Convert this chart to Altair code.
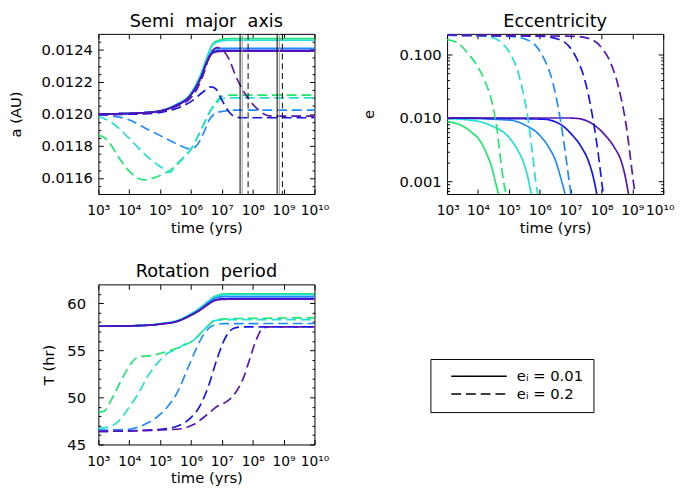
import altair as alt
import pandas as pd

FONT = "DejaVu Sans"
SERIES = ["g", "c", "lb", "b", "p"]
COLORS = ["#1ee86c", "#20e0d8", "#1e8cff", "#1414f0", "#5514b4"]
EI = ["eᵢ = 0.01", "eᵢ = 0.2"]
DASHES = [[1, 0], [10, 5]]

XTICKS = [1e3, 1e4, 1e5, 1e6, 1e7, 1e8, 1e9, 1e10]
XLABELS = ["10³", "10⁴", "10⁵", "10⁶", "10⁷", "10⁸", "10⁹", "10¹⁰"]

# ---------------- Semi major axis (AU) ----------------
A_SOLID_T = [3.0, 4.0, 4.5, 5.0, 5.5, 6.0, 6.3, 6.55, 6.7, 6.9, 7.2, 10.0]
A_SOLID = {
    "g":  [0.01200, 0.012003, 0.012008, 0.01202, 0.012057, 0.01213, 0.01224, 0.01237, 0.012435, 0.01246, 0.01247, 0.01247],
    "c":  [0.01200, 0.012003, 0.012008, 0.01202, 0.012056, 0.012128, 0.012236, 0.012365, 0.01243, 0.012452, 0.01246, 0.01246],
    "lb": [0.01200, 0.012003, 0.012008, 0.01202, 0.012054, 0.012122, 0.012225, 0.012345, 0.012395, 0.012408, 0.01241, 0.01241],
    "b":  [0.01200, 0.012003, 0.012008, 0.012019, 0.012052, 0.01212, 0.01222, 0.01234, 0.012385, 0.012395, 0.012398, 0.012398],
    "p":  [0.01200, 0.012003, 0.012008, 0.012018, 0.01205, 0.012118, 0.012215, 0.012335, 0.01238, 0.01239, 0.012392, 0.012392],
}
A_DASH_T = {
    "g":  [3.0, 3.15, 3.35, 3.65, 3.97, 4.28, 4.5, 4.76, 5.1, 5.45, 5.75, 6.0, 6.2, 6.4, 6.6, 6.8, 7.0, 7.3, 10.0],
    "c":  [3.0, 3.44, 3.97, 4.49, 5.02, 5.34, 5.45, 5.75, 6.0, 6.2, 6.4, 6.6, 6.8, 7.0, 7.3, 10.0],
    "lb": [3.0, 3.97, 4.49, 5.02, 5.55, 5.97, 6.18, 6.39, 6.6, 6.81, 7.02, 7.4, 10.0],
    "b":  [3.0, 4.49, 5.02, 5.55, 6.07, 6.39, 6.65, 6.79, 6.97, 7.18, 7.39, 7.65, 10.0],
    "p":  [3.0, 4.5, 5.0, 5.5, 6.07, 6.39, 6.65, 6.86, 7.02, 7.23, 7.44, 7.71, 7.97, 8.18, 8.39, 8.6, 10.0],
}
A_DASH = {
    "g":  [0.011867, 0.011857, 0.011822, 0.011731, 0.011649, 0.011598, 0.011588, 0.011598, 0.011625, 0.011665,
           0.011725, 0.01178, 0.01185, 0.01193, 0.01201, 0.01207, 0.01211, 0.012118, 0.012118],
    "c":  [0.011986, 0.011945, 0.011853, 0.011751, 0.011669, 0.011635, 0.011668, 0.011728, 0.011782, 0.011852,
           0.01193, 0.01201, 0.01206, 0.012095, 0.0121, 0.0121],
    "lb": [0.011996, 0.011965, 0.011914, 0.011863, 0.011812, 0.011782, 0.011802, 0.011873, 0.011965, 0.012006,
           0.012016, 0.012024, 0.012024],
    "b":  [0.011996, 0.012, 0.01201, 0.012035, 0.012086, 0.012137, 0.012169, 0.012159, 0.012098, 0.012026,
           0.011986, 0.011976, 0.011976],
    "p":  [0.011996, 0.012005, 0.012015, 0.012045, 0.012116, 0.012241, 0.012384, 0.012415, 0.0124, 0.012343,
           0.012241, 0.012139, 0.012067, 0.012027, 0.011996, 0.011986, 0.011986],
}
VLINE_SOLID_T = [7.59, 8.79]
VLINE_DASH_T = [7.85, 8.96]
VLINE_GREY_T = [7.66, 8.86]

# ---------------- Eccentricity ----------------
E_SOLID_T = {
    "g":  [3.0, 3.445, 3.764, 4.082, 4.294, 4.453, 4.559, 4.665, 4.77],
    "c":  [3.0, 3.976, 4.506, 4.93, 5.248, 5.46, 5.619, 5.725, 5.831],
    "lb": [3.0, 5.036, 5.566, 5.99, 6.309, 6.521, 6.68, 6.818, 6.924],
    "b":  [3.0, 6.097, 6.627, 7.051, 7.369, 7.581, 7.74, 7.846, 7.931],
    "p":  [3.0, 6.945, 7.263, 7.687, 8.111, 8.43, 8.641, 8.779, 8.875, 8.96],
}
E_SOLID = {
    "g":  [0.00873, 0.00774, 0.00611, 0.00427, 0.00265, 0.00165, 0.00102, 0.00064, 0.0004],
    "c":  [0.0098, 0.00893, 0.00729, 0.00542, 0.00337, 0.00209, 0.00115, 0.00064, 0.00035],
    "lb": [0.0100, 0.00925, 0.00757, 0.00542, 0.00337, 0.00209, 0.00115, 0.00064, 0.00035],
    "b":  [0.0100, 0.0096, 0.0082, 0.00542, 0.00337, 0.00209, 0.00115, 0.00064, 0.00035],
    "p":  [0.0100, 0.0100, 0.0098, 0.0082, 0.00542, 0.00337, 0.00209, 0.00115, 0.00064, 0.00035],
}
E_DASH_T = {
    "g":  [3.0, 3.339, 3.657, 3.976, 4.241, 4.453, 4.612, 4.739, 4.845, 4.909, 4.972],
    "c":  [3.0, 3.976, 4.506, 4.824, 5.089, 5.301, 5.46, 5.619, 5.757, 5.884, 5.937, 5.99],
    "lb": [3.0, 5.036, 5.566, 5.884, 6.15, 6.362, 6.521, 6.68, 6.839, 6.966, 7.008, 7.061],
    "b":  [3.0, 6.097, 6.627, 6.945, 7.21, 7.422, 7.581, 7.74, 7.899, 8.005, 8.058, 8.111],
    "p":  [3.0, 7.157, 7.687, 8.005, 8.27, 8.482, 8.641, 8.8, 8.938, 9.045, 9.087, 9.14],
}
E_DASH = {
    "g":  [0.171, 0.152, 0.106, 0.0659, 0.0364, 0.0178, 0.00687, 0.00209, 0.00091, 0.00064, 0.0004],
    "c":  [0.2, 0.197, 0.181, 0.143, 0.0942, 0.052, 0.0255, 0.0098, 0.00299, 0.00091, 0.00064, 0.0004],
    "lb": [0.2, 0.192, 0.171, 0.135, 0.0836, 0.0461, 0.0226, 0.00873, 0.00265, 0.00091, 0.00064, 0.0004],
    "b":  [0.2, 0.192, 0.171, 0.135, 0.0836, 0.0461, 0.0226, 0.00873, 0.00265, 0.00102, 0.00064, 0.0004],
    "p":  [0.2, 0.192, 0.171, 0.127, 0.0789, 0.0409, 0.02, 0.00774, 0.00236, 0.00091, 0.00064, 0.0004],
}

# ---------------- Rotation period (hr) ----------------
T_SOLID_T = [3.0, 4.5, 5.04, 5.57, 5.99, 6.31, 6.57, 6.79, 7.0, 7.3, 10.0]
T_SOLID = {
    "g":  [57.55, 57.66, 57.83, 58.17, 58.86, 59.55, 60.24, 60.76, 60.95, 61.0, 61.0],
    "c":  [57.55, 57.66, 57.83, 58.16, 58.84, 59.5, 60.18, 60.68, 60.86, 60.9, 60.9],
    "lb": [57.55, 57.65, 57.81, 58.12, 58.78, 59.42, 60.08, 60.55, 60.68, 60.7, 60.7],
    "b":  [57.55, 57.64, 57.8, 58.1, 58.72, 59.32, 59.95, 60.35, 60.46, 60.48, 60.48],
    "p":  [57.55, 57.64, 57.79, 58.08, 58.7, 59.3, 59.9, 60.3, 60.4, 60.42, 60.42],
}
T_DASH_T = {
    "g":  [3.0, 3.18, 3.445, 3.764, 4.082, 4.294, 4.718, 5.248, 5.672, 6.097, 6.309, 6.574, 6.786, 7.157, 10.0],
    "c":  [3.0, 3.339, 3.657, 3.976, 4.294, 4.612, 4.93, 5.248, 5.566, 5.672, 6.097, 6.309, 6.574, 6.786, 7.157, 10.0],
    "lb": [3.0, 3.976, 4.506, 4.93, 5.248, 5.566, 5.884, 6.203, 6.468, 6.733, 7.051, 10.0],
    "b":  [3.0, 5.036, 5.566, 5.99, 6.309, 6.574, 6.839, 7.104, 7.369, 7.634, 10.0],
    "p":  [3.0, 5.566, 6.097, 6.521, 6.839, 7.157, 7.422, 7.687, 7.899, 8.111, 8.323, 8.535, 10.0],
}
T_DASH = {
    "g":  [48.41, 48.52, 49.9, 51.97, 53.69, 54.31, 54.45, 54.9, 55.41, 56.1, 56.79, 57.66, 58.24, 58.34, 58.45],
    "c":  [46.72, 46.86, 47.48, 48.86, 50.41, 52.31, 53.69, 54.72, 55.14, 55.41, 56.1, 56.79, 57.66, 58.15, 58.25, 58.25],
    "lb": [46.52, 46.62, 47.14, 48.0, 49.03, 50.59, 53.0, 55.41, 56.97, 57.66, 57.83, 57.85],
    "b":  [46.38, 46.62, 46.97, 47.83, 49.21, 51.28, 54.03, 56.28, 57.31, 57.48, 57.48],
    "p":  [46.38, 46.62, 47.14, 48.17, 49.03, 49.55, 50.41, 51.97, 54.03, 56.1, 57.31, 57.48, 57.48],
}

A_TICKS = [round(0.0115 + 0.00005 * i, 6) for i in range(20)]
E_TICKS = [0.0007, 0.0008, 0.0009, 0.001, 0.002, 0.003, 0.004, 0.005, 0.006, 0.007, 0.008, 0.009,
           0.01, 0.02, 0.03, 0.04, 0.05, 0.06, 0.07, 0.08, 0.09, 0.1]
T_TICKS = list(range(45, 62))


def long_df(t_src, v_src, ei):
    rows = []
    for s in SERIES:
        ts = t_src[s] if isinstance(t_src, dict) else t_src
        for lt, v in zip(ts, v_src[s]):
            rows.append({"series": s, "ei": ei, "t": 10 ** lt, "v": v})
    return rows


A_DF = pd.DataFrame(long_df(A_SOLID_T, A_SOLID, EI[0]) + long_df(A_DASH_T, A_DASH, EI[1]))
E_DF = pd.DataFrame(long_df(E_SOLID_T, E_SOLID, EI[0]) + long_df(E_DASH_T, E_DASH, EI[1]))
T_DF = pd.DataFrame(long_df(T_SOLID_T, T_SOLID, EI[0]) + long_df(T_DASH_T, T_DASH, EI[1]))

XSCALE = alt.Scale(type="log", domain=[1e3, 1e10], nice=False)
LBL_X = "[" + ",".join("'%s'" % s for s in XLABELS) + "][round(log(datum.value)/LN10)-3]"

common = dict(domain=False, grid=False, labelFont=FONT, labelColor="black",
              titleFont=FONT, titleFontSize=15, titleFontWeight="normal", titleColor="black",
              tickColor="black", tickWidth=1, labelOverlap=False)


def x_axis(orient, flush=False):
    if orient == "bottom":
        fl = dict(labelFlush=True, labelFlushOffset=11) if flush else dict(labelFlush=False)
        return alt.Axis(orient="bottom", values=XTICKS, labelExpr=LBL_X, tickSize=alt.ExprRef(expr="-5"),
                        labelFontSize=14, labelPadding=15, title="time (yrs)", titlePadding=3, **fl, **common)
    return alt.Axis(orient="top", values=XTICKS, labels=False, tickSize=alt.ExprRef(expr="-5"),
                    title=None, minExtent=0, maxExtent=0, labelFlush=False, **common)


def y_axis(orient, ticks, major, fmt, pad, title, tpad):
    size = alt.ExprRef(expr="(" + major + ") ? -5 : -2.5")
    if orient == "left":
        return alt.Axis(orient="left", values=ticks, tickSize=size, labelFontSize=15, labelFlush=False,
                        labelExpr="(" + major + ") ? format(datum.value, '" + fmt + "') : ''",
                        labelPadding=pad, title=title, titlePadding=tpad, **common)
    return alt.Axis(orient="right", values=ticks, tickSize=size, labels=False, title=None,
                    minExtent=0, maxExtent=0, labelFlush=False, **common)


def panel(df, title, yscale, ticks, major, fmt, pad, ytitle, tpad, extra=(), flush=False):
    base = alt.Chart(df)
    lines = base.mark_line(strokeWidth=1.7, clip=True, interpolate="monotone").encode(
        x=alt.X("t:Q", scale=XSCALE, axis=x_axis("bottom", flush)),
        y=alt.Y("v:Q", scale=yscale, axis=y_axis("left", ticks, major, fmt, pad, ytitle, tpad)),
        color=alt.Color("series:N", scale=alt.Scale(domain=SERIES, range=COLORS), legend=None),
        strokeDash=alt.StrokeDash("ei:N", scale=alt.Scale(domain=EI, range=DASHES), legend=None),
    )
    frame = base.mark_line(opacity=0, clip=True).encode(
        x=alt.X("t:Q", scale=XSCALE, axis=x_axis("top")),
        y=alt.Y("v:Q", scale=yscale, axis=y_axis("right", ticks, major, fmt, pad, None, tpad)),
        detail="series:N",
    )
    return alt.layer(lines, *extra, frame).resolve_axis(x="independent", y="independent").properties(
        width=220, height=163, title=title)


def rules(ts, **kw):
    d = pd.DataFrame({"t": [10 ** x for x in ts]})
    return alt.Chart(d).mark_rule(**kw).encode(x=alt.X("t:Q", scale=XSCALE, axis=None))


extra_a = (
    rules(VLINE_GREY_T, color="#9a9a9a", strokeWidth=1),
    rules(VLINE_SOLID_T, color="black", strokeWidth=1),
    rules(VLINE_DASH_T, color="black", strokeWidth=1, strokeDash=[6, 4]),
)

NB = "\u00a0"
p1 = panel(A_DF, "Semi" + NB * 2 + "major" + NB * 2 + "axis",
           alt.Scale(domain=[0.0115, 0.0125], nice=False, zero=False),
           A_TICKS, "abs(datum.value*5000 - round(datum.value*5000)) < 1e-6", ".4f", 11, "a (AU)", 18, extra_a)
p2 = panel(E_DF, "Eccentricity", alt.Scale(type="log", domain=[0.00064, 0.21], nice=False),
           E_TICKS, "abs(log(datum.value)/LN10 - round(log(datum.value)/LN10)) < 1e-6", ".3f", 11, "e", 23,
           flush=True)
p3 = panel(T_DF, "Rotation" + NB * 2 + "period", alt.Scale(domain=[45, 62], nice=False, zero=False),
           T_TICKS, "datum.value % 5 == 0", "d", 18, "T (hr)", 11)

leg = alt.Chart(pd.DataFrame({"ei": EI})).mark_line(color="black", strokeWidth=1.5).encode(
    x=alt.value(0), y=alt.value(0),
    strokeDash=alt.StrokeDash("ei:N", scale=alt.Scale(domain=EI, range=DASHES), legend=alt.Legend(
        orient="none", legendX=-17, legendY=76, title=None, strokeColor="black", fillColor="white",
        padding=10, symbolType="M-5,0H5", symbolSize=128, symbolOffset=32, labelOffset=31,
        symbolStrokeColor="black", symbolStrokeWidth=1.5, labelFont=FONT, labelFontSize=15,
        labelColor="black", rowPadding=2, cornerRadius=0)),
).properties(width=220, height=163, view=alt.ViewBackground(stroke="transparent"))

chart = alt.concat(p1, p2, p3, leg, columns=2, spacing={"row": 27, "column": 31}, align="each").resolve_scale(
    color="independent", strokeDash="independent"
).properties(padding={"left": 0, "top": 0, "right": 0, "bottom": 0}).configure_view(
    stroke="black", strokeWidth=1
).configure_title(font=FONT, fontSize=18, fontWeight="normal", color="black", offset=3)

chart.save("out.html", embed_options={"renderer": "svg", "actions": False})
